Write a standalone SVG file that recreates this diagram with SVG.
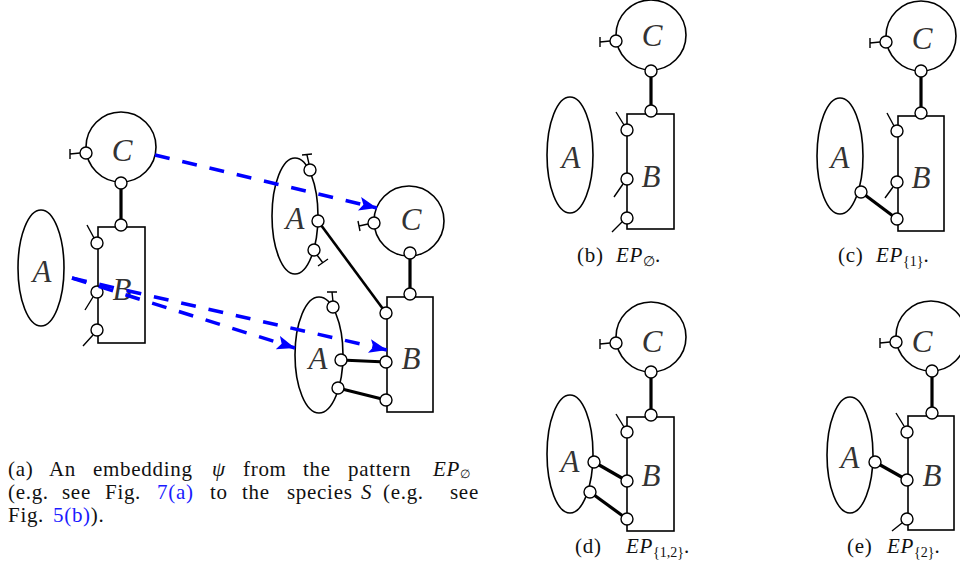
<svg xmlns="http://www.w3.org/2000/svg" width="960" height="578" viewBox="0 0 960 578">
<style>
.shape{fill:none;stroke:#000;stroke-width:1.6}
.port{fill:#fff;stroke:#000;stroke-width:1.4}
.tail{fill:none;stroke:#000;stroke-width:1.4}
.link{stroke:#000;stroke-width:3.2;fill:none}
.emb{stroke:#0000ff;stroke-width:3.5;stroke-dasharray:15 13;fill:none}
.lbl{font-family:"Liberation Serif",serif;font-style:italic;font-size:31px;fill:#333;text-anchor:middle}
.cap{font-family:"Liberation Serif","DejaVu Serif",serif;font-size:21px;letter-spacing:0.7px;fill:#111}
.it{font-style:italic}
.sub{font-size:14px;letter-spacing:0}
.ref{fill:#1a1aff}
</style>
<defs>
<marker id="ah" markerUnits="userSpaceOnUse" markerWidth="20" markerHeight="14" refX="18" refY="7" orient="auto">
<path d="M0,0 L18,7 L0,14 L4,7 z" fill="#0000ff"/>
</marker>
</defs>

<!-- black connectors -->
<g id="links">
<line class="link" x1="121" y1="189" x2="121" y2="219"/>
<line class="link" x1="410" y1="259" x2="410" y2="288"/>
<line class="link" x1="318" y1="221" x2="386" y2="313" style="stroke-width:2.6"/>
<line class="link" x1="341" y1="360" x2="386" y2="362"/>
<line class="link" x1="338" y1="388" x2="386" y2="400"/>
<line class="link" x1="651" y1="77" x2="651" y2="105"/>
<line class="link" x1="921" y1="77" x2="921" y2="107"/>
<line class="link" x1="861" y1="192" x2="897" y2="219"/>
<line class="link" x1="651" y1="378" x2="651" y2="409"/>
<line class="link" x1="594" y1="462" x2="627" y2="481"/>
<line class="link" x1="590" y1="492" x2="627" y2="519"/>
<line class="link" x1="932" y1="377" x2="932" y2="407"/>
<line class="link" x1="875" y1="462" x2="907" y2="480"/>
</g>

<!-- Panel (a), pattern -->
<g id="a-pat-C">
<circle class="shape" cx="121" cy="147" r="35"/>
<path class="tail" d="M80,153 L70,154 M70,149 L70,159"/>
<circle class="port" cx="86" cy="153" r="6"/>
<circle class="port" cx="121" cy="183" r="6"/>
<text class="lbl" x="122" y="161">C</text>
</g>
<g id="a-pat-A">
<ellipse class="shape" cx="41" cy="268" rx="23" ry="58"/>
<text class="lbl" x="42" y="282">A</text>
</g>
<g id="a-pat-B">
<rect class="shape" x="98" y="227" width="47" height="116"/>
<path class="tail" d="M94,238 L87,225 M93,297 L85,310 M93,335 L83,346"/>
<circle class="port" cx="121" cy="225" r="6"/>
<circle class="port" cx="97" cy="243" r="6"/>
<circle class="port" cx="97" cy="292" r="6"/>
<circle class="port" cx="97" cy="330" r="6"/>
<text class="lbl" x="122" y="300">B</text>
</g>

<!-- Panel (a), species -->
<g id="a-sp-A1">
<ellipse class="shape" cx="295" cy="216" rx="23" ry="58"/>
<path class="tail" d="M309,164 L307,155 M302,155 L312,154 M317,255 L323,263 M318,266 L328,259"/>
<circle class="port" cx="310" cy="170" r="6"/>
<circle class="port" cx="318" cy="221" r="6"/>
<circle class="port" cx="314" cy="250" r="6"/>
<text class="lbl" x="295" y="229">A</text>
</g>
<g id="a-sp-C">
<circle class="shape" cx="409" cy="221" r="35"/>
<path class="tail" d="M368,224 L359,226 M358,221 L360,231"/>
<circle class="port" cx="374" cy="223" r="6"/>
<circle class="port" cx="410" cy="253" r="6"/>
<text class="lbl" x="411" y="230">C</text>
</g>
<g id="a-sp-A2">
<ellipse class="shape" cx="319" cy="355" rx="24" ry="58"/>
<path class="tail" d="M333,302 L332,292 M327,292 L337,292"/>
<circle class="port" cx="333" cy="307" r="6"/>
<circle class="port" cx="341" cy="360" r="6"/>
<circle class="port" cx="338" cy="388" r="6"/>
<text class="lbl" x="318" y="369">A</text>
</g>
<g id="a-sp-B">
<rect class="shape" x="387" y="297" width="46" height="115"/>
<circle class="port" cx="410" cy="294" r="6"/>
<circle class="port" cx="386" cy="313" r="6"/>
<circle class="port" cx="386" cy="362" r="6"/>
<circle class="port" cx="386" cy="400" r="6"/>
<text class="lbl" x="411" y="369">B</text>
</g>

<!-- embedding arrows -->
<g id="embedding">
<line class="emb" x1="155" y1="155" x2="377" y2="208" marker-end="url(#ah)"/>
<line class="emb" x1="72" y1="278" x2="295" y2="348" marker-end="url(#ah)"/>
<line class="emb" x1="72" y1="278" x2="387" y2="350" marker-end="url(#ah)"/>
</g>

<!-- caption (a) -->
<g class="cap">
<text y="476"><tspan x="8">(a)</tspan><tspan x="49">An</tspan><tspan x="93">embedding</tspan><tspan x="212" class="it">ψ</tspan><tspan x="243">from</tspan><tspan x="303">the</tspan><tspan x="348">pattern</tspan><tspan x="433" class="it">EP</tspan><tspan class="sub" dy="2" style="font-size:12px">∅</tspan></text>
<text y="499"><tspan x="8">(e.g.</tspan><tspan x="62">see</tspan><tspan x="105">Fig.</tspan><tspan x="157" class="ref">7(a)</tspan><tspan x="210">to</tspan><tspan x="242">the</tspan><tspan x="287">species</tspan><tspan x="361" class="it">S</tspan><tspan x="383">(e.g.</tspan><tspan x="450">see</tspan></text>
<text y="522"><tspan x="8">Fig.</tspan><tspan x="53" class="ref">5(b)</tspan><tspan>).</tspan></text>
</g>

<!-- Panel (b) -->
<g id="b-C">
<circle class="shape" cx="651" cy="35" r="35"/>
<path class="tail" d="M610,41 L600,42 M600,37 L600,47"/>
<circle class="port" cx="616" cy="41" r="6"/>
<circle class="port" cx="651" cy="71" r="6"/>
<text class="lbl" x="652" y="46">C</text>
</g>
<g id="b-A">
<ellipse class="shape" cx="570" cy="155" rx="23" ry="58"/>
<text class="lbl" x="571" y="168">A</text>
</g>
<g id="b-B">
<rect class="shape" x="627" y="114" width="47" height="115"/>
<path class="tail" d="M624,125 L616,112 M623,184 L614,197 M622,222 L612,232"/>
<circle class="port" cx="651" cy="111" r="6"/>
<circle class="port" cx="627" cy="130" r="6"/>
<circle class="port" cx="627" cy="179" r="6"/>
<circle class="port" cx="627" cy="218" r="6"/>
<text class="lbl" x="651" y="187">B</text>
</g>
<text class="cap" y="262"><tspan x="577">(b)</tspan><tspan x="616" class="it">EP</tspan><tspan class="sub" dy="4">∅</tspan><tspan dy="-4">.</tspan></text>

<!-- Panel (c) -->
<g id="c-C">
<circle class="shape" cx="921" cy="36" r="35"/>
<path class="tail" d="M880,42 L870,43 M870,38 L870,48"/>
<circle class="port" cx="886" cy="42" r="6"/>
<circle class="port" cx="921" cy="71" r="6"/>
<text class="lbl" x="922" y="49">C</text>
</g>
<g id="c-A">
<ellipse class="shape" cx="840" cy="156" rx="23" ry="58"/>
<circle class="port" cx="861" cy="192" r="6"/>
<text class="lbl" x="840" y="168">A</text>
</g>
<g id="c-B">
<rect class="shape" x="898" y="116" width="46" height="115"/>
<path class="tail" d="M894,126 L887,113 M893,187 L885,198"/>
<circle class="port" cx="921" cy="113" r="6"/>
<circle class="port" cx="897" cy="131" r="6"/>
<circle class="port" cx="897" cy="182" r="6"/>
<circle class="port" cx="897" cy="219" r="6"/>
<text class="lbl" x="921" y="188">B</text>
</g>
<text class="cap" y="262"><tspan x="838">(c)</tspan><tspan x="876" class="it">EP</tspan><tspan class="sub" dy="4">{1}</tspan><tspan dy="-4">.</tspan></text>

<!-- Panel (d) -->
<g id="d-C">
<circle class="shape" cx="651" cy="337" r="35"/>
<path class="tail" d="M610,343 L600,344 M600,339 L600,349"/>
<circle class="port" cx="616" cy="343" r="6"/>
<circle class="port" cx="651" cy="372" r="6"/>
<text class="lbl" x="652" y="352">C</text>
</g>
<g id="d-A">
<ellipse class="shape" cx="570" cy="454" rx="23" ry="59"/>
<circle class="port" cx="594" cy="462" r="6"/>
<circle class="port" cx="590" cy="492" r="6"/>
<text class="lbl" x="570" y="472">A</text>
</g>
<g id="d-B">
<rect class="shape" x="627" y="417" width="47" height="114"/>
<path class="tail" d="M624,427 L616,414"/>
<circle class="port" cx="651" cy="415" r="6"/>
<circle class="port" cx="627" cy="432" r="6"/>
<circle class="port" cx="627" cy="481" r="6"/>
<circle class="port" cx="627" cy="519" r="6"/>
<text class="lbl" x="651" y="486">B</text>
</g>
<text class="cap" y="553"><tspan x="575">(d)</tspan><tspan x="626" class="it">EP</tspan><tspan class="sub" dy="4">{1,2}</tspan><tspan dy="-4">.</tspan></text>

<!-- Panel (e) -->
<g id="e-C">
<circle class="shape" cx="931" cy="336" r="35"/>
<path class="tail" d="M890,342 L880,343 M880,338 L880,348"/>
<circle class="port" cx="896" cy="342" r="6"/>
<circle class="port" cx="932" cy="371" r="6"/>
<text class="lbl" x="922" y="352">C</text>
</g>
<g id="e-A">
<ellipse class="shape" cx="850" cy="455" rx="23" ry="58"/>
<circle class="port" cx="875" cy="462" r="6"/>
<text class="lbl" x="850" y="468">A</text>
</g>
<g id="e-B">
<rect class="shape" x="908" y="416" width="46" height="114"/>
<path class="tail" d="M904,426 L896,413 M902,523 L892,531"/>
<circle class="port" cx="932" cy="413" r="6"/>
<circle class="port" cx="907" cy="432" r="6"/>
<circle class="port" cx="907" cy="480" r="6"/>
<circle class="port" cx="907" cy="519" r="6"/>
<text class="lbl" x="932" y="486">B</text>
</g>
<text class="cap" y="553"><tspan x="847">(e)</tspan><tspan x="887" class="it">EP</tspan><tspan class="sub" dy="4">{2}</tspan><tspan dy="-4">.</tspan></text>
</svg>
